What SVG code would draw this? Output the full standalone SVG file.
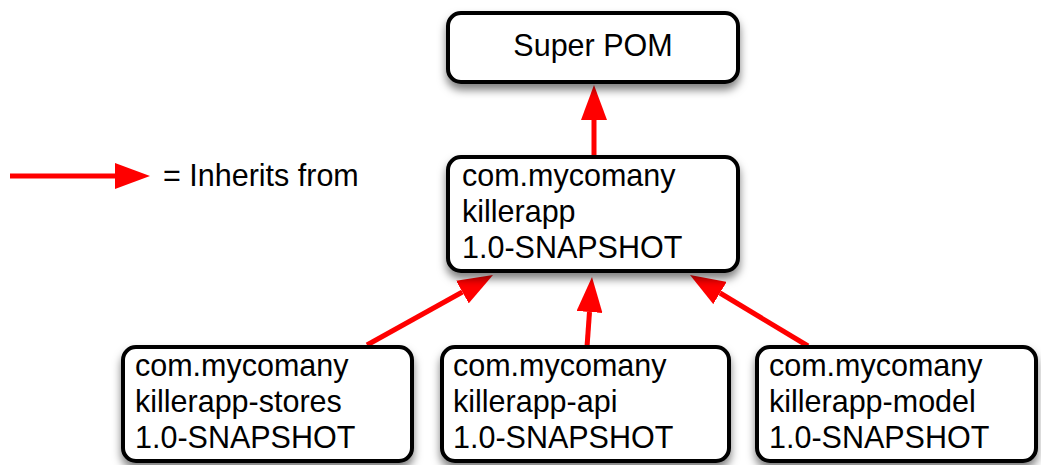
<svg xmlns="http://www.w3.org/2000/svg" width="1041" height="465" viewBox="0 0 1041 465">
  <defs>
    <style>
      .box { fill: #ffffff; stroke: #000000; stroke-width: 4; filter: url(#shadow); }
      .lbl { font-family: "Liberation Sans", Arial, Helvetica, sans-serif; font-size: 30.5px; fill: #000000; }
      .conn { stroke: #ff0000; stroke-width: 5; fill: none; marker-end: url(#arrow); }
    </style>
    <filter id="shadow" x="-10%" y="-20%" width="120%" height="150%">
      <feDropShadow dx="0" dy="6" stdDeviation="4" flood-color="#000000" flood-opacity="0.5"/>
    </filter>
    <marker id="arrow" viewBox="0 0 35 26" refX="0" refY="13" markerWidth="35" markerHeight="26" markerUnits="userSpaceOnUse" orient="auto">
      <path d="M0,0 L35,13 L0,26 z" fill="#ff0000"/>
    </marker>
  </defs>
  <rect width="1041" height="465" fill="#ffffff"/>

  <g id="connectors">
    <line class="conn" x1="594" y1="157" x2="594" y2="120"/>
    <line class="conn" x1="367" y1="345" x2="462.4" y2="292"/>
    <line class="conn" x1="587" y1="347" x2="589.5" y2="312"/>
    <line class="conn" x1="808" y1="346" x2="720" y2="293"/>
  </g>

  <g id="legend">
    <line class="conn" x1="10" y1="176" x2="115" y2="176"/>
    <text class="lbl" x="163" y="186">= Inherits from</text>
  </g>

  <g id="super-pom">
    <rect class="box" x="448" y="13" width="290" height="69" rx="13"/>
    <text class="lbl" x="593" y="56" text-anchor="middle">Super POM</text>
  </g>

  <g id="killerapp">
    <rect class="box" x="448" y="157" width="290" height="114" rx="13"/>
    <text class="lbl" x="462" y="186">com.mycomany</text>
    <text class="lbl" x="462" y="222">killerapp</text>
    <text class="lbl" x="462" y="258">1.0-SNAPSHOT</text>
  </g>

  <g id="killerapp-stores">
    <rect class="box" x="123" y="347" width="289" height="114" rx="13"/>
    <text class="lbl" x="135" y="376">com.mycomany</text>
    <text class="lbl" x="135" y="412">killerapp-stores</text>
    <text class="lbl" x="135" y="448">1.0-SNAPSHOT</text>
  </g>

  <g id="killerapp-api">
    <rect class="box" x="442" y="347" width="287" height="114" rx="13"/>
    <text class="lbl" x="453" y="376">com.mycomany</text>
    <text class="lbl" x="453" y="412">killerapp-api</text>
    <text class="lbl" x="453" y="448">1.0-SNAPSHOT</text>
  </g>

  <g id="killerapp-model">
    <rect class="box" x="757" y="347" width="279" height="114" rx="13"/>
    <text class="lbl" x="769" y="376">com.mycomany</text>
    <text class="lbl" x="769" y="412">killerapp-model</text>
    <text class="lbl" x="769" y="448">1.0-SNAPSHOT</text>
  </g>
</svg>
